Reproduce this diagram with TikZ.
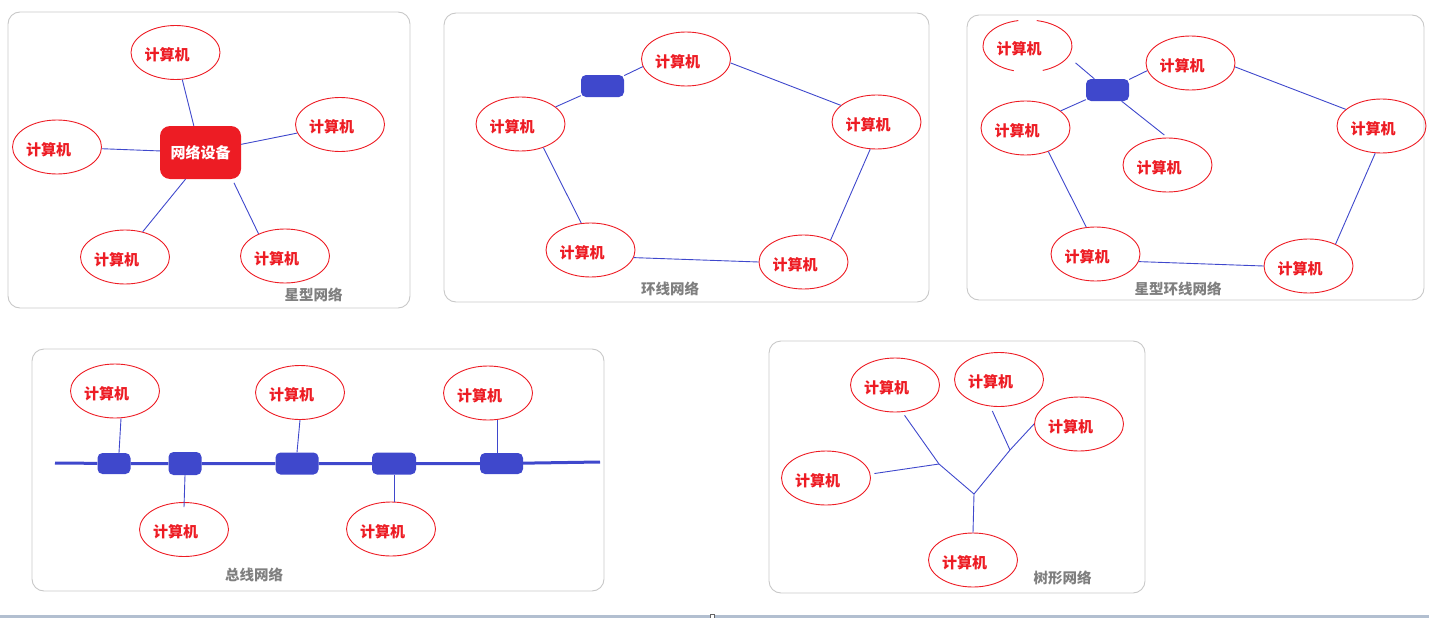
\documentclass[tikz,border=0pt]{standalone}
\usepackage{fontspec}
\setmainfont{Noto Sans CJK SC}
\usetikzlibrary{shapes.geometric,positioning}

\definecolor{netred}{HTML}{ED1C24}
\definecolor{netblue}{HTML}{3F48CC}
\definecolor{framegray}{HTML}{C8C8C8}
\definecolor{capgray}{HTML}{7F7F7F}
\definecolor{bargray}{HTML}{B2BFD0}

\newcommand{\pctext}{计算机\hspace*{17pt}}

\tikzset{
  pc/.style={ellipse, draw=netred, line width=0.9pt, text=netred, inner sep=0pt,
    text height=18pt, text depth=1.6pt,
    minimum width=89pt, minimum height=54pt, font=\bfseries\fontsize{15}{15}\selectfont},
  device/.style={rectangle, rounded corners=10pt, fill=netred, text=white,
    minimum width=81pt, minimum height=53pt, font=\bfseries\fontsize{15}{15}\selectfont},
  hub/.style={rectangle, rounded corners=5pt, fill=netblue, minimum width=43pt, minimum height=22pt},
  link/.style={draw=netblue, line width=0.9pt},
  bus/.style={draw=netblue, line width=3pt},
  panel/.style={draw=framegray, line width=0.9pt, rounded corners=12pt},
  caption/.style={text=capgray, inner sep=0pt, font=\bfseries\fontsize{14.5}{14.5}\selectfont}
}

\begin{document}
\begin{tikzpicture}[x=1pt,y=-1pt,on grid]
  \useasboundingbox (0,0) rectangle (1429,618);
  % panel frames
  \draw[panel] (8,12) rectangle (410,308);
  \draw[panel] (444,13) rectangle (929,302);
  \draw[panel] (967,15) rectangle (1424,300);
  \draw[panel] (32,349) rectangle (604,591);
  \draw[panel] (769,341) rectangle (1145,593);

  % star
  \path
  node[device] (dev) at (200.5,152.5) {网络设备}
  node[pc,above left=100pt and 25pt of dev] (stop) {\pctext}
  node[pc,above right=28pt and 139.5pt of dev] (sright) {\pctext}
  node[pc,above left=5.5pt and 143.5pt of dev] (sleft) {\pctext}
  node[pc,below left=104.5pt and 75.5pt of dev] (sbl) {\pctext}
  node[pc,below right=103.5pt and 84.5pt of dev] (sbr) {\pctext}
  node[caption] (cstar) at (313.5,294.5) {星型网络}
  ;
  \path[link]
  (stop) edge (dev)
  (sright) edge (dev)
  (sleft) edge (dev)
  (sbl.55) edge ([xshift=-15pt]dev.south)
  (sbr.140) edge[shorten >=4pt] ([xshift=-9pt]dev.south east)
  ;

  % ring
  \path
  node[pc] (rtop) at (686,59) {\pctext}
  node[pc,below left=65pt and 165.5pt of rtop] (rleft) {\pctext}
  node[pc,below right=63pt and 190.5pt of rtop] (rright) {\pctext}
  node[pc,below left=191pt and 95.5pt of rtop] (rbl) {\pctext}
  node[pc,below right=203pt and 117.5pt of rtop] (rbr) {\pctext}
  node[hub,below left=27pt and 83.5pt of rtop] (rhub) {}
  node[caption] (cring) at (670,289) {环线网络}
  ;
  \path[link]
  (rleft.26) edge (rhub)
  (rhub) edge (rtop.190)
  (rtop.-5) edge (rright.155)
  (rright.257) edge (rbr.39)
  (rbr.west) edge (rbl.-10)
  (rbl.109) edge (rleft.-46)
  ;

  % star ring
  \path
  node[pc] (srtop) at (1190.5,63) {\pctext}
  node[pc,draw=none,above left=17pt and 163pt of srtop] (srtl) {\pctext}
  node[pc,below left=65pt and 165pt of srtop] (srleft) {\pctext}
  node[pc,below left=102pt and 23pt of srtop] (srmid) {\pctext}
  node[pc,below right=63pt and 191pt of srtop] (srright) {\pctext}
  node[pc,below left=191pt and 95pt of srtop] (srbl) {\pctext}
  node[pc,below right=203pt and 118pt of srtop] (srbr) {\pctext}
  node[hub,below left=27pt and 83pt of srtop] (srhub) {}
  node[caption] (csr) at (1178,288.5) {星型环线网络}
  ;
  % outline of srtl has two gaps
  \draw[netred,line width=0.9pt] (srtl.center) ++(102:44.5pt and 26pt)
    arc[start angle=102,end angle=252,x radius=44.5pt,y radius=26pt];
  \draw[netred,line width=0.9pt] (srtl.center) ++(290:44.5pt and 26pt)
    arc[start angle=290,end angle=438,x radius=44.5pt,y radius=26pt];
  \path[link]
  (srtl.-15) edge[shorten <=9pt] (srhub)
  (srhub) edge (srtop.190)
  (srleft.26) edge (srhub)
  (srhub) edge[shorten >=4pt] (srmid.north)
  (srtop.-5) edge (srright.155)
  (srright.257) edge (srbr.39)
  (srbr.west) edge (srbl.-10)
  (srbl.109) edge (srleft.-46)
  ;

  % bus
  \path
  node[hub,minimum width=33pt,minimum height=21pt] (b1) at (114,463.5) {}
  node[hub,minimum width=33pt,minimum height=23pt,right=71pt of b1] (b2) {}
  node[hub,right=112pt of b2] (b3) {}
  node[hub,minimum width=44pt,right=97pt of b3] (b4) {}
  node[hub,minimum height=21pt,right=107.5pt of b4] (b5) {}
  node[pc,above right=72.5pt and 1pt of b1] (e1) {\pctext}
  node[pc,above right=71pt and 3pt of b3] (e2) {\pctext}
  node[pc,above left=70.5pt and 13.5pt of b5] (e3) {\pctext}
  node[pc,below left=66pt and 1pt of b2] (e4) {\pctext}
  node[pc,below left=65.5pt and 3pt of b4] (e5) {\pctext}
  node[caption] (cbus) at (254,574.5) {总线网络}
  ;
  \coordinate (busL) at (55,463);
  \coordinate (busR) at (600,462);
  \draw[bus] (busL) -- (b1) -- (b2) -- (b3) -- (b4) -- (b5) -- (busR);
  \path[link]
  ([xshift=6pt]e1.south) edge ([xshift=5pt]b1.north)
  (e2.south) edge (b3.north)
  ([xshift=9pt]e3.south) edge ([xshift=-4.5pt]b5.north)
  (b2.south) edge ([yshift=-5pt]e4.north)
  (b4.south) edge (b4.south |- e5.north)
  ;

  % tree
  \path
  node[pc] (t5) at (973,560) {\pctext}
  node[pc,above left=175pt and 78pt of t5] (t1) {\pctext}
  node[pc,above right=180.5pt and 26pt of t5] (t2) {\pctext}
  node[pc,above right=136pt and 106pt of t5] (t3) {\pctext}
  node[pc,above left=82pt and 147pt of t5] (t4) {\pctext}
  node[caption] (ctree) at (1062.5,577.5) {树形网络}
  ;
  \coordinate (j0) at (974,494);
  \coordinate (j1) at (939,464);
  \coordinate (j2) at (1010,450);
  \draw[link,shorten <=4pt] (t1.-75) -- (j1) -- (j0);
  \draw[link,shorten <=4pt] (t4.5) -- (j1);
  \draw[link,shorten <=5pt] (t2.252) -- (j2);
  \draw[link] (t3.west) -- (j2) -- (j0) -- (t5.north);

  % window bar
  \fill[bargray] (0,615) rectangle (1429,618);
  \draw[black!60,fill=white,line width=0.5pt] (710,614.5) rectangle (714,618);
\end{tikzpicture}
\end{document}
